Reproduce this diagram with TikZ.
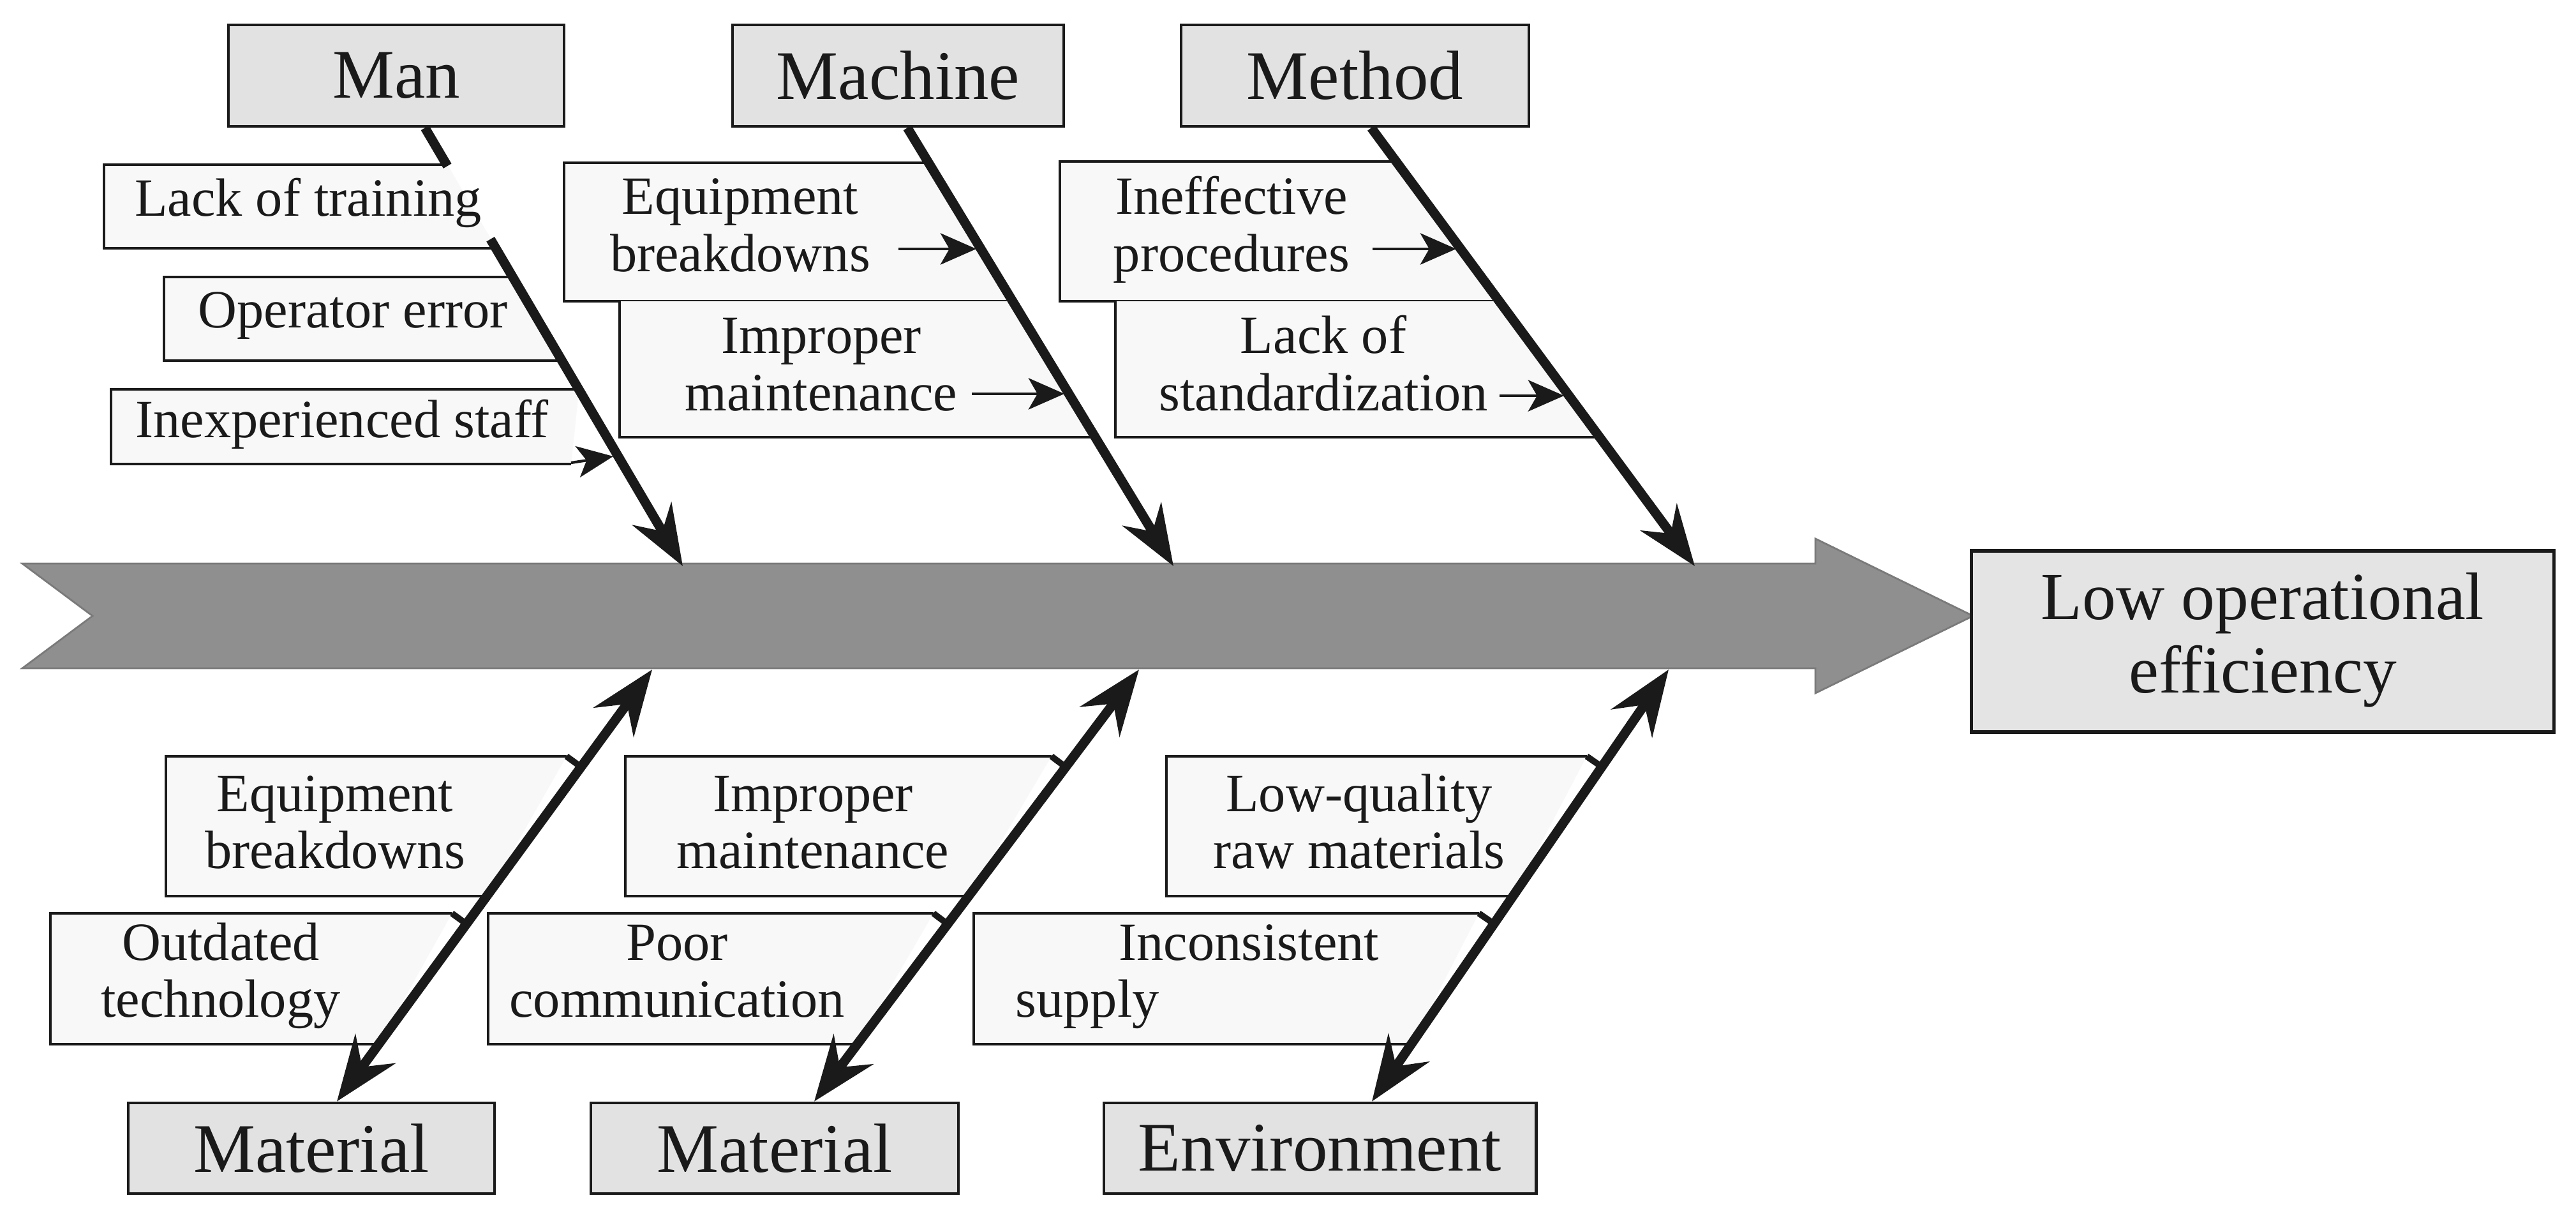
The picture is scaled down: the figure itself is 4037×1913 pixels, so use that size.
\documentclass[tikz,border=0pt]{standalone}
\usepackage{fontspec}
\setmainfont{Liberation Serif}
\usetikzlibrary{arrows.meta,calc}
\definecolor{catfill}{HTML}{E2E2E2}
\definecolor{resfill}{HTML}{E4E4E4}
\definecolor{causefill}{HTML}{F8F8F8}
\definecolor{spinefill}{HTML}{8F8F8F}
\definecolor{spineedge}{HTML}{7A7A7A}
\definecolor{ink}{HTML}{1A1A1A}
\newcommand{\twol}[2]{\begin{tabular}[t]{@{}c@{}}#1\\#2\end{tabular}}
\tikzset{
  catbox/.style={draw=ink,line width=1.3pt,fill=catfill,inner sep=0pt,text=ink,font=\fontsize{31}{36}\selectfont},
  causeedge/.style={draw=ink,line width=1.1pt},
  causetext/.style={inner sep=0pt,anchor=base,text=ink,font=\fontsize{24}{25.5}\selectfont},
  bone/.style={draw=ink,line width=4.2pt},
  tophead/.style={-{Stealth[length=27pt,width=20pt,inset=9pt]}},
  bothhead/.style={{Stealth[length=29pt,width=22pt,inset=10pt]}-{Stealth[length=29pt,width=22pt,inset=10pt]}},
  smallarrow/.style={draw=ink,line width=1.2pt,-{Stealth[length=16pt,width=14pt,inset=4pt]}},
  tickmark/.style={draw=ink,line width=2.8pt},
}
\begin{document}
\begin{tikzpicture}[x=0.01cm,y=-0.01cm]
\useasboundingbox (0,0) rectangle (4037,1913);
\fill[white] (0,0) rectangle (4037,1913);

% spine
\filldraw[fill=spinefill,draw=spineedge,line width=0.8pt,line join=miter]
  (35,883) -- (2845,883) -- (2845,844) -- (3092,965) -- (2845,1086) -- (2845,1047) -- (35,1047) -- (145,965) -- cycle;

% category boxes and effect
\node[catbox,minimum width=5.26cm,minimum height=1.59cm] (man) at (621,118.5) {Man};
\node[catbox,minimum width=5.19cm,minimum height=1.59cm] (machine) at (1407.5,118.5) {Machine};
\node[catbox,minimum width=5.45cm,minimum height=1.59cm] (method) at (2123.5,118.5) {Method};
\node[catbox,minimum width=5.74cm,minimum height=1.42cm] (mat1) at (488,1799) {Material};
\node[catbox,minimum width=5.76cm,minimum height=1.42cm] (mat2) at (1214,1799) {Material};
\node[catbox,minimum width=6.77cm,minimum height=1.42cm] (env) at (2068.5,1799) {Environment};
\node[draw=ink,line width=1.5pt,fill=resfill,inner sep=0pt,text=ink,minimum width=9.12cm,minimum height=2.84cm,font=\fontsize{30}{32.7}\selectfont] (res) at (3546,1005) {\twol{Low operational}{efficiency}};

% bone end points
\coordinate (manS) at ($(man.south)+(45,0)$);      \coordinate (manT) at (1070,887);
\coordinate (macS) at ($(machine.south)+(14.5,0)$); \coordinate (macT) at (1839,887);
\coordinate (metS) at ($(method.south)+(25.5,0)$);  \coordinate (metT) at (2656,887);
\coordinate (b1S) at ($(mat1.north)+(40,0)$);  \coordinate (b1T) at (1022,1049);
\coordinate (b2S) at ($(mat2.north)+(62,0)$);  \coordinate (b2T) at (1785,1049);
\coordinate (b3S) at ($(env.north)+(81.5,0)$); \coordinate (b3T) at (2615,1049);

% ---- cause boxes, upper half ----
\fill[causefill] (163,258) -- (701.2,258) -- (778,389) -- (163,389) -- cycle;
\draw[causeedge] (701.2,258) -- (163,258) -- (163,389) -- (778,389);
\fill[causefill] (257,434) -- (804.4,434) -- (881.2,565) -- (257,565) -- cycle;
\draw[causeedge] (804.4,434) -- (257,434) -- (257,565) -- (881.2,565);
\fill[causefill] (174,610) -- (907.6,610) -- (895,727) -- (174,727) -- cycle;
\draw[causeedge] (907.6,610) -- (174,610) -- (174,727) -- (895,727);

\fill[causefill] (884,255) -- (1456.5,255) -- (1587.8,472) -- (884,472) -- cycle;
\draw[causeedge] (1456.5,255) -- (884,255) -- (884,472) -- (1587.8,472);
\fill[causefill] (971,472) -- (1587.8,472) -- (1716.7,685) -- (971,685) -- cycle;
\draw[causeedge] (971,472) -- (971,685) -- (1716.7,685);

\fill[causefill] (1661,253) -- (2189.5,253) -- (2350.6,472) -- (1661,472) -- cycle;
\draw[causeedge] (2189.5,253) -- (1661,253) -- (1661,472) -- (2350.6,472);
\fill[causefill] (1748,472) -- (2350.6,472) -- (2507.4,685) -- (1748,685) -- cycle;
\draw[causeedge] (1748,472) -- (1748,685) -- (2507.4,685);

% ---- cause boxes, lower half ----
\coordinate (k8) at (887.8,1185);
\fill[causefill] (260,1185) -- (k8) -- (763,1404) -- (260,1404) -- cycle;
\draw[causeedge] (k8) -- (260,1185) -- (260,1404) -- (763,1404);
\coordinate (k9) at (708.3,1431);
\fill[causefill] (79,1431) -- (k9) -- (593.7,1636) -- (79,1636) -- cycle;
\draw[causeedge] (k9) -- (79,1431) -- (79,1636) -- (593.7,1636);
\coordinate (k10) at (1647.8,1185);
\fill[causefill] (980,1185) -- (k10) -- (1518.1,1404) -- (980,1404) -- cycle;
\draw[causeedge] (k10) -- (980,1185) -- (980,1404) -- (1518.1,1404);
\coordinate (k11) at (1462.8,1431);
\fill[causefill] (765,1431) -- (k11) -- (1343.7,1636) -- (765,1636) -- cycle;
\draw[causeedge] (k11) -- (765,1431) -- (765,1636) -- (1343.7,1636);
\coordinate (k12) at (2486.6,1185);
\fill[causefill] (1828,1185) -- (k12) -- (2371.2,1404) -- (1828,1404) -- cycle;
\draw[causeedge] (k12) -- (1828,1185) -- (1828,1404) -- (2371.2,1404);
\coordinate (k13) at (2317.6,1431);
\fill[causefill] (1526,1431) -- (k13) -- (2211.8,1636) -- (1526,1636) -- cycle;
\draw[causeedge] (k13) -- (1526,1431) -- (1526,1636) -- (2211.8,1636);

% ---- cause texts ----
\node[causetext] (c1) at (483,339) {Lack of training};
\node[causetext] (c2) at (553,514) {Operator error};
\node[causetext] (c3) at (536,686) {Inexperienced staff};
\node[causetext] (c4) at (1160,336) {\twol{Equipment}{breakdowns}};
\node[causetext] (c5) at (1287,554) {\twol{Improper}{maintenance}};
\node[causetext] (c6) at (1930,336) {\twol{Ineffective}{procedures}};
\node[causetext] (c7) at (2074,554) {\twol{Lack of}{standardization}};
\node[causetext] (c8) at (525,1271) {\twol{Equipment}{breakdowns}};
\node[causetext] (c9) at (346,1504) {\twol{Outdated}{technology}};
\node[causetext] (c10) at (1274,1271) {\twol{Improper}{maintenance}};
\node[causetext] (c11) at (1061,1504) {\twol{Poor}{communication}};
\node[causetext] (c12) at (2130,1271) {\twol{Low-quality}{raw materials}};
\node[causetext,anchor=base west] (c13) at (1591,1504) {\begin{tabular}[t]{@{}l@{}}\hspace*{46pt}Inconsistent\\supply\end{tabular}};

% ---- small arrows into the bones ----
\coordinate (a3s) at (895,725);   \coordinate (a3e) at (961,715);
\coordinate (a4s) at (1408,390);  \coordinate (a4e) at (1530,390);
\coordinate (a5s) at (1523,617);  \coordinate (a5e) at (1668,617);
\coordinate (a6s) at (2151,390);  \coordinate (a6e) at (2282,390);
\coordinate (a7s) at (2350,620);  \coordinate (a7e) at (2451,620);
\draw[smallarrow] (a3s) -- (a3e);
\draw[smallarrow] (a4s) -- (a4e);
\draw[smallarrow] (a5s) -- (a5e);
\draw[smallarrow] (a6s) -- (a6e);
\draw[smallarrow] (a7s) -- (a7e);

% ---- bones ----
\draw[bone] (manS) -- ($(manS)!0.0871!(manT)$);
\draw[bone,tophead] ($(manS)!0.254!(manT)$) -- (manT);
\draw[bone,tophead] (macS) -- (macT);
\draw[bone,tophead] (metS) -- (metT);
\draw[bone,bothhead] (b1S) -- (b1T);
\draw[bone,bothhead] (b2S) -- (b2T);
\draw[bone,bothhead] (b3S) -- (b3T);

% ---- ticks joining lower boxes to bones ----
\draw[tickmark] (k8) -- ($(b1S)!(k8)!(b1T)$);
\draw[tickmark] (k9) -- ($(b1S)!(k9)!(b1T)$);
\draw[tickmark] (k10) -- ($(b2S)!(k10)!(b2T)$);
\draw[tickmark] (k11) -- ($(b2S)!(k11)!(b2T)$);
\draw[tickmark] (k12) -- ($(b3S)!(k12)!(b3T)$);
\draw[tickmark] (k13) -- ($(b3S)!(k13)!(b3T)$);
\end{tikzpicture}
\end{document}
